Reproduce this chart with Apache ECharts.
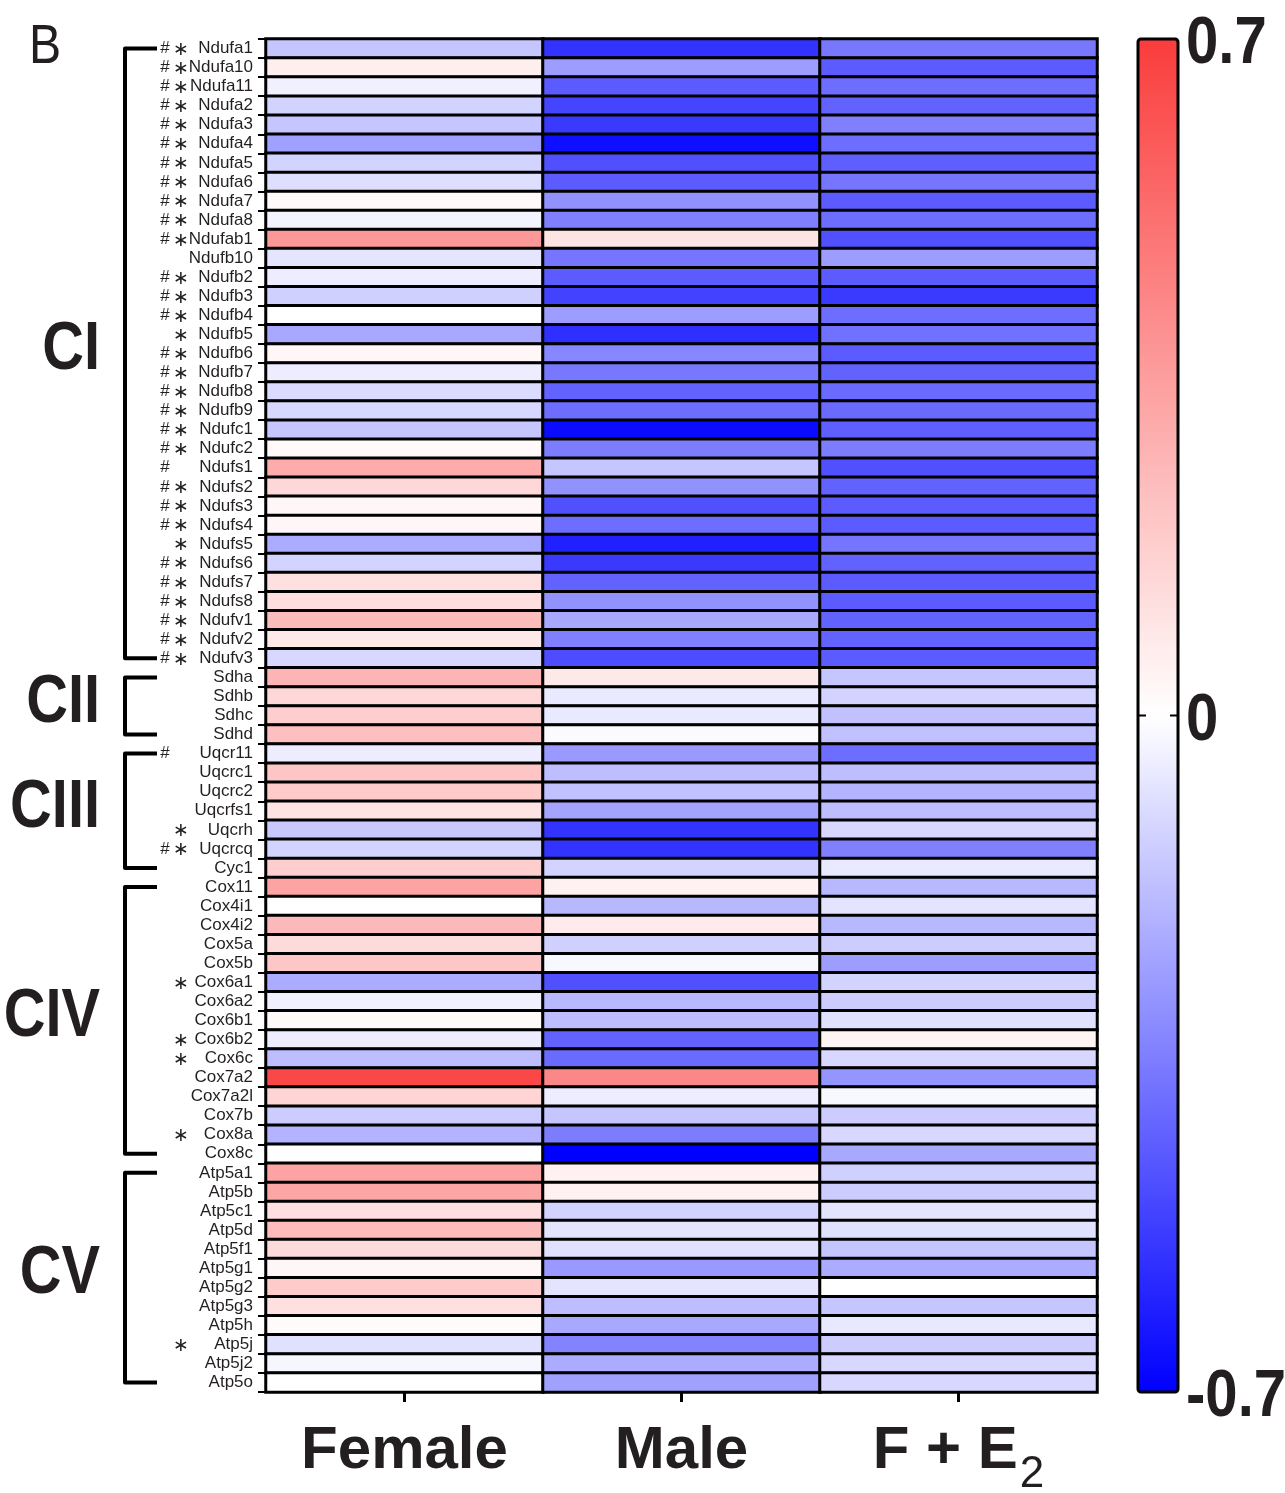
<!DOCTYPE html>
<html>
<head>
<meta charset="utf-8">
<script src="https://cdn.jsdelivr.net/npm/echarts@6/dist/echarts.min.js"></script>
<style>
  html, body { margin: 0; padding: 0; background: #ffffff; }
  #chart { width: 1285px; height: 1493px; }
</style>
</head>
<body>
<div id="chart"></div>
<script>
// Oxidative phosphorylation subunit transcripts, log fold change per condition
const genes = [
  'Ndufa1', 'Ndufa10', 'Ndufa11', 'Ndufa2', 'Ndufa3', 'Ndufa4', 'Ndufa5', 'Ndufa6', 'Ndufa7', 'Ndufa8',
  'Ndufab1', 'Ndufb10', 'Ndufb2', 'Ndufb3', 'Ndufb4', 'Ndufb5', 'Ndufb6', 'Ndufb7', 'Ndufb8', 'Ndufb9',
  'Ndufc1', 'Ndufc2', 'Ndufs1', 'Ndufs2', 'Ndufs3', 'Ndufs4', 'Ndufs5', 'Ndufs6', 'Ndufs7', 'Ndufs8',
  'Ndufv1', 'Ndufv2', 'Ndufv3',
  'Sdha', 'Sdhb', 'Sdhc', 'Sdhd',
  'Uqcr11', 'Uqcrc1', 'Uqcrc2', 'Uqcrfs1', 'Uqcrh', 'Uqcrcq', 'Cyc1',
  'Cox11', 'Cox4i1', 'Cox4i2', 'Cox5a', 'Cox5b', 'Cox6a1', 'Cox6a2', 'Cox6b1', 'Cox6b2', 'Cox6c',
  'Cox7a2', 'Cox7a2l', 'Cox7b', 'Cox8a', 'Cox8c',
  'Atp5a1', 'Atp5b', 'Atp5c1', 'Atp5d', 'Atp5f1', 'Atp5g1', 'Atp5g2', 'Atp5g3', 'Atp5h', 'Atp5j',
  'Atp5j2', 'Atp5o'
];

// significance flags shown left of each gene name
const marks = [
  '#*', '#*', '#*', '#*', '#*', '#*', '#*', '#*', '#*', '#*',
  '#*', '', '#*', '#*', '#*', '*', '#*', '#*', '#*', '#*',
  '#*', '#*', '#', '#*', '#*', '#*', '*', '#*', '#*', '#*',
  '#*', '#*', '#*',
  '', '', '', '',
  '#', '', '', '', '*', '#*', '',
  '', '', '', '', '', '*', '', '', '*', '*',
  '', '', '', '*', '',
  '', '', '', '', '', '', '', '', '', '*',
  '', ''
];

const female = [
  -0.16, 0.06, -0.04, -0.12, -0.16, -0.26, -0.12, -0.09, 0.02, -0.03,
  0.37, -0.07, -0.05, -0.13, 0.00, -0.24, 0.03, -0.05, -0.10, -0.11,
  -0.16, 0.02, 0.30, 0.14, 0.03, 0.03, -0.23, -0.12, 0.11, 0.12,
  0.24, 0.08, -0.11,
  0.27, 0.14, 0.18, 0.23,
  -0.05, 0.21, 0.19, 0.10, -0.15, -0.12, 0.18,
  0.33, 0.00, 0.25, 0.13, 0.20, -0.23, -0.04, 0.02, -0.05, -0.18,
  0.66, 0.155, -0.14, -0.21, 0.00,
  0.33, 0.32, 0.12, 0.245, 0.13, 0.03, 0.19, 0.11, 0.015, -0.085,
  -0.025, 0.00
];

const male = [
  -0.56, -0.27, -0.45, -0.51, -0.54, -0.66, -0.48, -0.45, -0.30, -0.35,
  0.10, -0.38, -0.45, -0.52, -0.27, -0.57, -0.33, -0.37, -0.43, -0.40,
  -0.67, -0.36, -0.16, -0.30, -0.48, -0.40, -0.61, -0.54, -0.43, -0.30,
  -0.24, -0.35, -0.49,
  0.08, -0.06, -0.06, -0.01,
  -0.28, -0.18, -0.17, -0.25, -0.56, -0.56, -0.12,
  0.05, -0.195, 0.07, -0.13, -0.02, -0.48, -0.195, -0.18, -0.43, -0.41,
  0.43, -0.05, -0.16, -0.36, -0.70,
  0.05, 0.05, -0.12, -0.074, -0.085, -0.28, -0.074, -0.18, -0.24, -0.34,
  -0.23, -0.26
];

const femaleE2 = [
  -0.37, -0.45, -0.40, -0.43, -0.35, -0.40, -0.44, -0.38, -0.45, -0.40,
  -0.48, -0.27, -0.45, -0.54, -0.40, -0.39, -0.45, -0.43, -0.41, -0.41,
  -0.44, -0.36, -0.48, -0.43, -0.45, -0.45, -0.38, -0.43, -0.45, -0.45,
  -0.43, -0.43, -0.45,
  -0.16, -0.12, -0.17, -0.17,
  -0.40, -0.18, -0.21, -0.18, -0.11, -0.35, -0.06,
  -0.195, -0.074, -0.195, -0.14, -0.27, -0.12, -0.14, -0.085, 0.04, -0.11,
  -0.29, -0.02, -0.14, -0.11, -0.24,
  -0.13, -0.14, -0.074, -0.085, -0.16, -0.23, 0.00, -0.16, -0.063, -0.14,
  -0.11, -0.11
];

const conditions = ['Female', 'Male', 'F + E2'];

// respiratory complexes: label, first gene, last gene
const complexNames = ['CI', 'CII', 'CIII', 'CIV', 'CV'];
const complexFirst = ['Ndufa1', 'Sdha', 'Uqcr11', 'Cox11', 'Atp5a1'];
const complexLast = ['Ndufv3', 'Sdhd', 'Cyc1', 'Cox8c', 'Atp5o'];

const scaleMin = -0.7;
const scaleMax = 0.7;
const scaleTicks = [0.7, 0, -0.7];

const INK = '#231f20';
const SANS = '"Liberation Sans", Arial, Helvetica, sans-serif';
const STAR_FONT = '"DejaVu Sans", "Liberation Sans", sans-serif';

const cells = [];
[female, male, femaleE2].forEach(function (col, ci) {
  col.forEach(function (v, ri) { cells.push([ci, ri, v]); });
});

const chart = echarts.init(document.getElementById('chart'), null, { renderer: 'canvas' });

const grid = { left: 266, top: 39, width: 831, height: 1353 };
const bar = { left: 1138, top: 39, width: 40, height: 1353 };

chart.setOption({
  animation: false,
  backgroundColor: '#ffffff',
  grid: {
    left: grid.left, top: grid.top, width: grid.width, height: grid.height,
    containLabel: false, outerBoundsMode: 'none'
  },
  xAxis: {
    type: 'category',
    data: conditions,
    position: 'bottom',
    axisLine: { show: false },
    splitLine: { show: false },
    axisTick: { show: true, alignWithLabel: true, length: 10, lineStyle: { color: '#000', width: 3 } },
    axisLabel: {
      margin: 29,
      interval: 0,
      formatter: function (v) {
        const m = v.match(/^(.*E)2$/);
        return m ? '{b|' + m[1] + '}{sub|2}' : '{b|' + v + '}';
      },
      rich: {
        b: { fontSize: 60, lineHeight: 60, verticalAlign: 'top', fontWeight: 'bold', fontFamily: SANS, color: INK },
        sub: { fontSize: 44, lineHeight: 44, verticalAlign: 'top', padding: [32, 0, 0, 2], fontWeight: 'normal', fontFamily: SANS, color: INK }
      }
    }
  },
  yAxis: [
    {
      type: 'category',
      data: genes,
      inverse: true,
      axisLine: { show: false },
      splitLine: { show: false },
      axisTick: { show: true, length: 8, lineStyle: { color: '#000', width: 2 } },
      axisLabel: { margin: 13, interval: 0, fontSize: 17, fontFamily: SANS, color: INK }
    },
    {
      type: 'category',
      data: genes,
      inverse: true,
      position: 'left',
      axisLine: { show: false },
      splitLine: { show: false },
      axisTick: { show: false },
      axisLabel: {
        margin: 77,
        interval: 0,
        formatter: function (v, i) {
          const m = marks[i] || '';
          if (!m) return '';
          const h = m.indexOf('#') >= 0 ? 'h' : 'hx';
          const s = m.indexOf('*') >= 0 ? 's' : 'sx';
          return '{' + h + '|#} {' + s + '|\u2217}';
        },
        rich: {
          h: { fontSize: 17, fontFamily: SANS, color: INK },
          hx: { fontSize: 17, fontFamily: SANS, color: 'rgba(0,0,0,0)' },
          s: { fontSize: 19, fontFamily: STAR_FONT, color: INK, padding: [3, 0, 0, 0] },
          sx: { fontSize: 19, fontFamily: STAR_FONT, color: 'rgba(0,0,0,0)', padding: [3, 0, 0, 0] }
        }
      }
    }
  ],
  visualMap: {
    type: 'continuous',
    min: scaleMin,
    max: scaleMax,
    calculable: false,
    show: true,
    left: bar.left,
    top: bar.top,
    itemWidth: bar.width,
    itemHeight: bar.height,
    padding: 0,
    seriesIndex: 0,
    inRange: { color: ['#0000ff', '#ffffff', '#fa3c3c'] }
  },
  series: [{
    type: 'heatmap',
    data: cells,
    itemStyle: { borderColor: '#000', borderWidth: 3 },
    emphasis: { disabled: true }
  }]
});

// Annotations placed from the axis scales: complex brackets, colour-bar frame and its labels
const elements = [];

elements.push({
  type: 'text', x: 29, y: 48, scaleX: 0.86,
  style: { text: 'B', fontSize: 56, fontFamily: SANS, fill: INK, verticalAlign: 'middle' }
});

complexNames.forEach(function (name, k) {
  const y0 = chart.convertToPixel({ yAxisIndex: 0 }, complexFirst[k]);
  const y1 = chart.convertToPixel({ yAxisIndex: 0 }, complexLast[k]);
  elements.push({
    type: 'polyline',
    shape: { points: [[157, y0], [125, y0], [125, y1], [157, y1]] },
    style: { stroke: '#000', lineWidth: 4, fill: null, lineJoin: 'round' }
  });
  elements.push({
    type: 'text',
    x: 100, y: (y0 + y1) / 2 - 3, scaleX: 0.85,
    style: {
      text: name, fontSize: 68, fontWeight: 'bold', fontFamily: SANS, fill: INK,
      align: 'right', verticalAlign: 'middle'
    }
  });
});

// colour-bar outline, zero tick and value labels
elements.push({
  type: 'rect', z: 10,
  shape: { x: bar.left, y: bar.top, width: bar.width, height: bar.height, r: 3 },
  style: { stroke: '#000', lineWidth: 3, fill: null }
});
scaleTicks.forEach(function (t) {
  const y = bar.top + (scaleMax - t) / (scaleMax - scaleMin) * bar.height;
  if (t !== scaleMin && t !== scaleMax) {
    elements.push({ type: 'line', z: 10, shape: { x1: bar.left, y1: y, x2: bar.left + 8, y2: y }, style: { stroke: '#000', lineWidth: 2 } });
    elements.push({ type: 'line', z: 10, shape: { x1: bar.left + bar.width - 8, y1: y, x2: bar.left + bar.width, y2: y }, style: { stroke: '#000', lineWidth: 2 } });
  }
  elements.push({
    type: 'text',
    x: 1186, y: y + 6, scaleX: 0.88,
    style: {
      text: String(t), fontSize: 66, fontWeight: 'bold', fontFamily: SANS, fill: INK,
      align: 'left', verticalAlign: 'middle'
    }
  });
});

chart.setOption({ graphic: { elements: elements } });
</script>
</body>
</html>
